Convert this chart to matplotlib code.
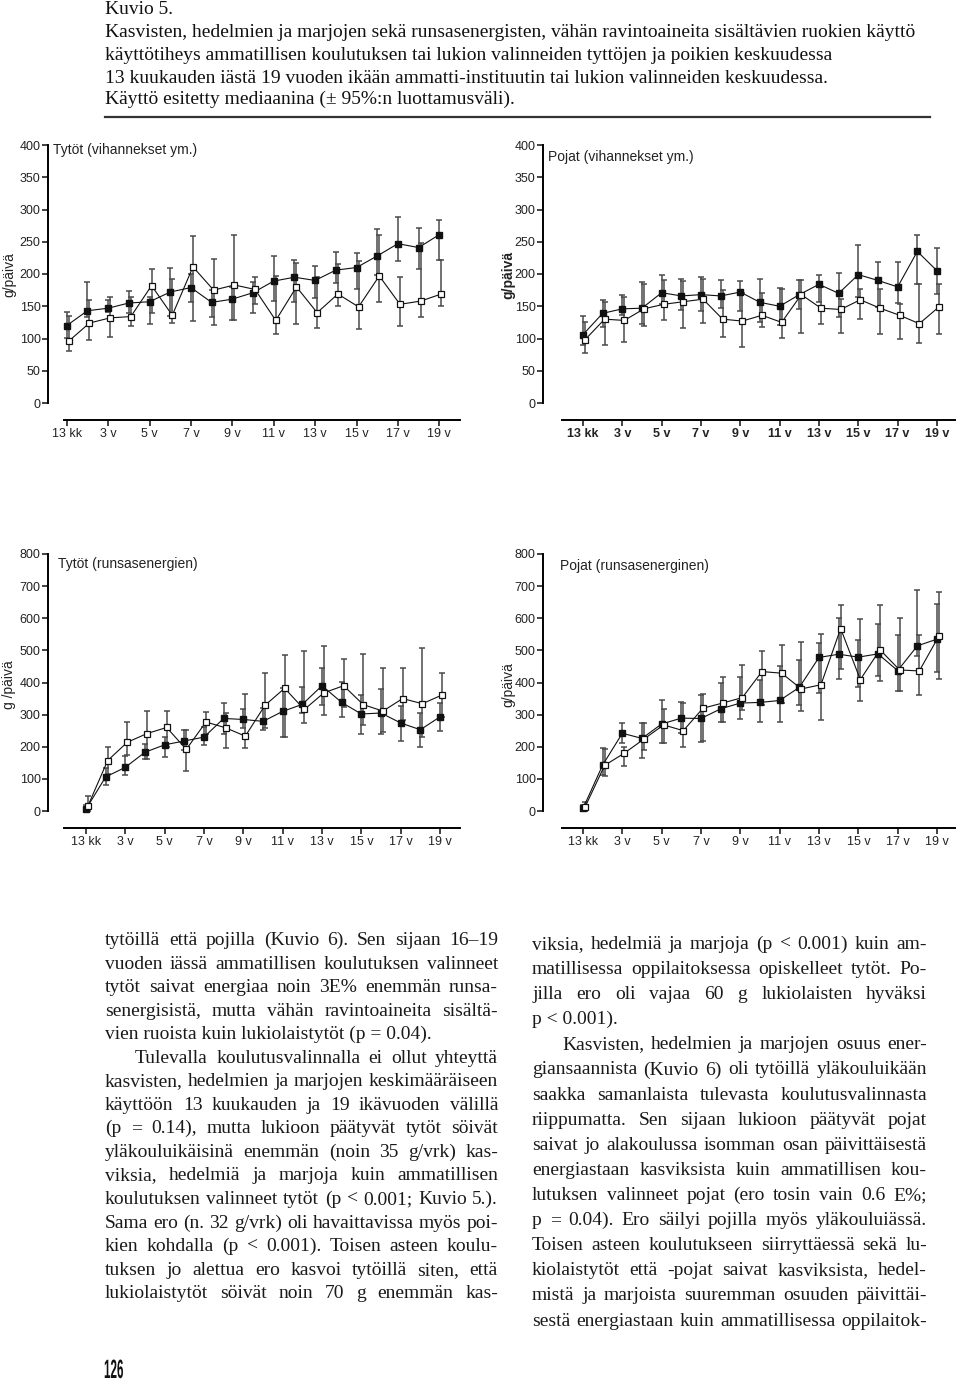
import numpy as np
import matplotlib.pyplot as plt
from matplotlib.textpath import TextPath
from matplotlib.patches import PathPatch
from matplotlib.font_manager import FontProperties
from matplotlib.transforms import Affine2D

W, H = 960, 1381

# ikäpisteet: 13 kk, 2 v, 3 v ... 19 v
ages = np.arange(19)
tick_pos = np.arange(0, 19, 2)
tick_labels = ["13 kk", "3 v", "5 v", "7 v", "9 v", "11 v", "13 v", "15 v", "17 v", "19 v"]

# Tytöt (vihannekset ym.)  -- täytetty = musta neliö, avoin = valkoinen neliö
tv_f_med = [120, 143, 147, 155, 157, 172, 179, 156, 161, 171, 189, 195, 190, 206, 210, 228, 247, 241, 261]
tv_f_lo = [101, 133, 141, 139, 123, 135, 157, 134, 128, 139, 158, 156, 163, 186, 176, 198, 220, 208, 221]
tv_f_hi = [141, 187, 159, 174, 165, 210, 200, 175, 180, 188, 228, 221, 213, 234, 233, 269, 288, 271, 283]
tv_o_med = [96, 124, 132, 134, 182, 136, 211, 175, 183, 176, 128, 180, 140, 169, 149, 197, 153, 158, 169]
tv_o_lo = [80, 97, 102, 120, 140, 124, 127, 121, 128, 154, 107, 122, 117, 150, 114, 156, 119, 134, 150]
tv_o_hi = [135, 160, 165, 165, 208, 193, 259, 224, 260, 195, 197, 217, 196, 216, 220, 260, 196, 248, 221]

# Pojat (vihannekset ym.)
pv_f_med = [106, 139, 146, 147, 171, 166, 168, 166, 172, 156, 150, 168, 184, 170, 199, 190, 180, 235, 205]
pv_f_lo = [90, 118, 136, 122, 153, 144, 143, 148, 142, 126, 121, 145, 157, 133, 165, 149, 155, 185, 169]
pv_f_hi = [135, 159, 168, 187, 198, 192, 196, 191, 189, 192, 179, 190, 199, 201, 245, 219, 218, 260, 240]
pv_o_med = [98, 130, 128, 146, 153, 157, 161, 130, 127, 136, 125, 168, 147, 145, 160, 147, 136, 123, 149]
pv_o_lo = [78, 90, 94, 119, 129, 116, 124, 102, 87, 118, 101, 108, 123, 109, 130, 107, 99, 93, 107]
pv_o_hi = [126, 157, 165, 184, 190, 189, 193, 175, 170, 170, 177, 190, 180, 162, 177, 176, 154, 184, 184]

# Tytöt (runsasenergien)
tr_f_med = [6, 106, 136, 183, 206, 218, 230, 288, 285, 279, 310, 332, 390, 338, 302, 305, 274, 253, 293]
tr_f_lo = [0, 82, 111, 161, 169, 189, 206, 241, 257, 252, 231, 304, 330, 293, 241, 239, 217, 198, 249]
tr_f_hi = [20, 134, 171, 210, 231, 252, 262, 335, 316, 320, 382, 387, 444, 403, 360, 381, 328, 306, 335]
tr_o_med = [16, 157, 214, 241, 260, 192, 277, 259, 233, 329, 382, 316, 368, 390, 331, 311, 350, 334, 361]
tr_o_lo = [0, 116, 174, 163, 200, 124, 241, 197, 197, 259, 231, 273, 299, 323, 267, 245, 283, 231, 293]
tr_o_hi = [47, 198, 277, 312, 312, 252, 309, 304, 364, 431, 485, 498, 515, 472, 489, 444, 444, 507, 431]

# Pojat (runsasenerginen)
pr_f_med = [8, 143, 242, 226, 271, 289, 288, 318, 336, 338, 344, 385, 478, 488, 479, 489, 437, 514, 535]
pr_f_lo = [0, 112, 211, 164, 211, 242, 216, 278, 286, 278, 278, 330, 367, 410, 387, 419, 372, 481, 434]
pr_f_hi = [20, 195, 275, 275, 346, 340, 362, 398, 416, 408, 450, 470, 522, 600, 533, 581, 547, 689, 645]
pr_o_med = [12, 142, 180, 224, 268, 250, 320, 336, 353, 434, 429, 380, 393, 568, 409, 502, 439, 436, 545]
pr_o_lo = [0, 109, 141, 190, 211, 200, 218, 278, 315, 330, 337, 310, 283, 442, 341, 404, 372, 362, 410]
pr_o_hi = [29, 192, 198, 273, 317, 336, 364, 416, 454, 497, 518, 525, 551, 642, 597, 642, 600, 549, 681]

plt.rcParams["font.family"] = ["Liberation Sans", "DejaVu Sans"]
SERIF = ["Liberation Serif", "DejaVu Serif"]

fig = plt.figure(figsize=(W / 100, H / 100), dpi=100)
fig.patch.set_facecolor("white")


def fx(x):
    return x / W


def fy(y):
    return 1 - y / H


def draw_panel(box, x0_px, x18_px, xstart_px, ymax, title, title_xy, ylab, ylab_xy,
               f_med, f_lo, f_hi, o_med, o_lo, o_hi, bold=False):
    left, top, right, bottom = box
    ax = fig.add_axes([fx(left), fy(bottom), (right - left) / W, (bottom - top) / H])
    ax.patch.set_alpha(0)
    step = (x18_px - x0_px) / 18
    ax.set_xlim((left - x0_px) / step, (right - x0_px) / step)
    ax.set_ylim(0, ymax)
    for s in ["top", "right"]:
        ax.spines[s].set_visible(False)
    ax.spines["left"].set_linewidth(1.4)
    ax.spines["bottom"].set_linewidth(1.4)
    ax.spines["bottom"].set_position(("outward", 12))
    ax.spines["bottom"].set_bounds((xstart_px - x0_px) / step, (right - x0_px) / step)

    ax.set_yticks(np.linspace(0, ymax, 9))
    ax.set_xticks(tick_pos)
    ax.set_xticklabels(tick_labels, fontweight="bold" if bold else "normal")
    ax.tick_params(axis="y", length=4.3, width=1.2, pad=1, labelsize=9, colors="#222")
    ax.tick_params(axis="x", length=4.3, width=1.2, pad=2, labelsize=9, colors="#222")

    # virhepalkit (95 % luottamusväli)
    for med, lo, hi, dx in ((f_med, f_lo, f_hi, 0.0), (o_med, o_lo, o_hi, 0.1)):
        med = np.array(med)
        eb = ax.errorbar(ages + dx, med, yerr=[med - np.array(lo), np.array(hi) - med],
                         fmt="none", ecolor="#4a4a4a", elinewidth=1.1, capsize=2.5, capthick=1.1)
        for art in eb.lines[1] + eb.lines[2]:
            art.set_clip_on(False)

    ax.plot(ages, f_med, "-s", color="#111", lw=0.8, ms=4.2, mfc="#111", mec="#111",
            clip_on=False, zorder=3)
    ax.plot(ages + 0.1, o_med, "-s", color="#111", lw=0.8, ms=4.8, mfc="white", mec="#111",
            mew=0.9, clip_on=False, zorder=4)

    fig.text(fx(title_xy[0]), fy(title_xy[1]), title, fontsize=10, va="center", ha="left", color="#222")
    fig.text(fx(ylab_xy[0]), fy(ylab_xy[1]), ylab, fontsize=10, rotation=90, va="center", ha="center",
             color="#222", fontweight="bold" if bold else "normal")
    return ax


draw_panel((48, 145, 460, 403), 66.7, 439.3, 64, 400, "Tytöt (vihannekset ym.)", (53, 150),
           "g/päivä", (9, 275), tv_f_med, tv_f_lo, tv_f_hi, tv_o_med, tv_o_lo, tv_o_hi)
draw_panel((543, 145, 955, 403), 583, 937, 562, 400, "Pojat (vihannekset ym.)", (548, 157),
           "g/päivä", (508, 275), pv_f_med, pv_f_lo, pv_f_hi, pv_o_med, pv_o_lo, pv_o_hi, bold=True)
draw_panel((48, 554, 460, 811), 86, 440, 64, 800, "Tytöt (runsasenergien)", (58, 564),
           "g /päivä", (9, 685), tr_f_med, tr_f_lo, tr_f_hi, tr_o_med, tr_o_lo, tr_o_hi)
draw_panel((543, 554, 955, 811), 583, 937, 562, 800, "Pojat (runsasenerginen)", (560, 566),
           "g/päivä", (508, 685), pr_f_med, pr_f_lo, pr_f_hi, pr_o_med, pr_o_lo, pr_o_hi)

# otsikko
header = [
    "Kuvio 5.",
    "Kasvisten, hedelmien ja marjojen sekä runsasenergisten, vähän ravintoaineita sisältävien ruokien käyttö",
    "käyttötiheys ammatillisen koulutuksen tai lukion valinneiden tyttöjen ja poikien keskuudessa",
    "13 kuukauden iästä 19 vuoden ikään ammatti-instituutin tai lukion valinneiden keskuudessa.",
    "Käyttö esitetty mediaanina (± 95%:n luottamusväli).",
]
header_y = [14, 37, 60, 83, 104]
for line, y in zip(header, header_y):
    fig.text(fx(105), fy(y), line, family=SERIF, fontsize=14, va="baseline", ha="left", color="#111")
fig.add_artist(plt.Line2D([fx(105), fx(930)], [fy(117), fy(117)], color="#333", lw=1.6))

# leipäteksti: (teksti, sisennys, tasataanko)
left_col = [
    ("tytöillä että pojilla (Kuvio 6). Sen sijaan 16–19", False, True),
    ("vuoden iässä ammatillisen koulutuksen valinneet", False, True),
    ("tytöt saivat energiaa noin 3E% enemmän runsa-", False, True),
    ("senergisistä, mutta vähän ravintoaineita sisältä-", False, True),
    ("vien ruoista kuin lukiolaistytöt (p = 0.04).", False, False),
    ("Tulevalla koulutusvalinnalla ei ollut yhteyttä", True, True),
    ("kasvisten, hedelmien ja marjojen keskimääräiseen", False, True),
    ("käyttöön 13 kuukauden ja 19 ikävuoden välillä", False, True),
    ("(p = 0.14), mutta lukioon päätyvät tytöt söivät", False, True),
    ("yläkouluikäisinä enemmän (noin 35 g/vrk) kas-", False, True),
    ("viksia, hedelmiä ja marjoja kuin ammatillisen", False, True),
    ("koulutuksen valinneet tytöt (p < 0.001; Kuvio 5.).", False, True),
    ("Sama ero (n. 32 g/vrk) oli havaittavissa myös poi-", False, True),
    ("kien kohdalla (p < 0.001). Toisen asteen koulu-", False, True),
    ("tuksen jo alettua ero kasvoi tytöillä siten, että", False, True),
    ("lukiolaistytöt söivät noin 70 g enemmän kas-", False, True),
]
right_col = [
    ("viksia, hedelmiä ja marjoja (p < 0.001) kuin am-", False, True),
    ("matillisessa oppilaitoksessa opiskelleet tytöt. Po-", False, True),
    ("jilla ero oli vajaa 60 g lukiolaisten hyväksi", False, True),
    ("p < 0.001).", False, False),
    ("Kasvisten, hedelmien ja marjojen osuus ener-", True, True),
    ("giansaannista (Kuvio 6) oli tytöillä yläkouluikään", False, True),
    ("saakka samanlaista tulevasta koulutusvalinnasta", False, True),
    ("riippumatta. Sen sijaan lukioon päätyvät pojat", False, True),
    ("saivat jo alakoulussa isomman osan päivittäisestä", False, True),
    ("energiastaan kasviksista kuin ammatillisen kou-", False, True),
    ("lutuksen valinneet pojat (ero tosin vain 0.6 E%;", False, True),
    ("p = 0.04). Ero säilyi pojilla myös yläkouluiässä.", False, True),
    ("Toisen asteen koulutukseen siirryttäessä sekä lu-", False, True),
    ("kiolaistytöt että -pojat saivat kasviksista, hedel-", False, True),
    ("mistä ja marjoista suuremman osuuden päivittäi-", False, True),
    ("sestä energiastaan kuin ammatillisessa oppilaitok-", False, True),
]

renderer = fig.canvas.get_renderer()


def put_line(x0, x1, y, text, justify, size=14):
    kw = dict(family=SERIF, fontsize=size, va="baseline", ha="left", color="#1a1a1a")
    if not justify:
        fig.text(fx(x0), fy(y), text, **kw)
        return
    words = text.split()
    arts = [fig.text(fx(x0), fy(y), w, **kw) for w in words]
    widths = [a.get_window_extent(renderer).width for a in arts]
    gap = (x1 - x0 - sum(widths)) / max(len(words) - 1, 1)
    x = x0
    for a, w in zip(arts, widths):
        a.set_x(fx(x))
        x += w + gap


def put_column(lines, x0, x1, y0, dy, indent=30):
    for i, (text, ind, just) in enumerate(lines):
        put_line(x0 + (indent if ind else 0), x1, y0 + i * dy, text, just)


put_column(left_col, 105, 498, 945, 23.55)
put_column(right_col, 532, 927, 949, 25.1)

# sivunumero kapealla kirjaimella (kavennettu polku)
tp = TextPath((0, 0), "126", size=26.5, prop=FontProperties(family="Liberation Sans", weight="bold"))
tr = Affine2D().scale(0.44 / W, 1.0 / H).translate(fx(104), fy(1378))
fig.add_artist(PathPatch(tp, transform=tr + fig.transFigure, facecolor="#111", edgecolor="none"))

fig.savefig("out.png", dpi=100)
